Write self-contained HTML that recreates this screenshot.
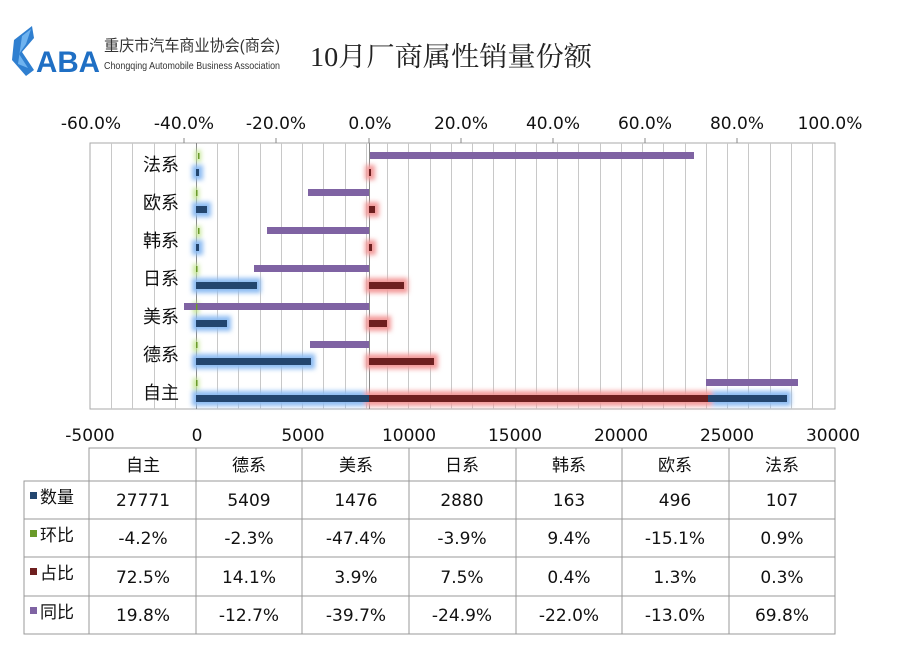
<!DOCTYPE html>
<html><head><meta charset="utf-8"><style>
body{margin:0;background:#fff;width:901px;height:670px;overflow:hidden}
svg{display:block}
.t{font-family:"DejaVu Sans","Noto Sans CJK SC",sans-serif;font-size:17px;fill:#111}
.c{font-family:"Liberation Sans","Noto Sans CJK SC",sans-serif;font-size:18px;fill:#111}
</style></head><body>
<svg width="901" height="670" viewBox="0 0 901 670" xmlns="http://www.w3.org/2000/svg">
<defs>
<filter id="gb" x="-20%" y="-100%" width="140%" height="300%"><feGaussianBlur stdDeviation="2.5"/></filter>
</defs>
<!-- logo -->
<polygon points="14,40 32,26 34,38 22,52 34,70 26,76 12,60" fill="#2f7fd0"/>
<polygon points="22,36 31,29 26,44 19,54 28,68 18,64" fill="#6fb3ef"/>
<text x="36" y="72" font-family="Liberation Sans,sans-serif" font-size="30" font-weight="bold" fill="#1f6fc4" textLength="64" lengthAdjust="spacingAndGlyphs">ABA</text>
<text x="104" y="51" font-family="Liberation Sans,Noto Sans CJK SC,sans-serif" font-size="16" fill="#333" textLength="176" lengthAdjust="spacingAndGlyphs">重庆市汽车商业协会(商会)</text>
<text x="104" y="69" font-family="Liberation Sans,sans-serif" font-size="10" fill="#333" textLength="176" lengthAdjust="spacingAndGlyphs">Chongqing Automobile Business Association</text>
<text x="310" y="66" font-family="Liberation Serif,Noto Serif CJK SC,serif" font-size="27" fill="#222" textLength="282" lengthAdjust="spacingAndGlyphs">10月厂商属性销量份额</text>
<!-- plot -->
<rect x="90" y="143" width="745" height="266" fill="#fff" stroke="#aaa"/>
<g stroke="#c8c8c8" stroke-width="1">
<line x1="111.5" y1="143" x2="111.5" y2="409"/><line x1="132.5" y1="143" x2="132.5" y2="409"/><line x1="154.5" y1="143" x2="154.5" y2="409"/><line x1="175.5" y1="143" x2="175.5" y2="409"/>
<line x1="217.5" y1="143" x2="217.5" y2="409"/><line x1="238.5" y1="143" x2="238.5" y2="409"/><line x1="260.5" y1="143" x2="260.5" y2="409"/><line x1="281.5" y1="143" x2="281.5" y2="409"/><line x1="302.5" y1="143" x2="302.5" y2="409"/><line x1="323.5" y1="143" x2="323.5" y2="409"/><line x1="345.5" y1="143" x2="345.5" y2="409"/><line x1="366.5" y1="143" x2="366.5" y2="409"/><line x1="387.5" y1="143" x2="387.5" y2="409"/><line x1="408.5" y1="143" x2="408.5" y2="409"/><line x1="430.5" y1="143" x2="430.5" y2="409"/><line x1="451.5" y1="143" x2="451.5" y2="409"/><line x1="472.5" y1="143" x2="472.5" y2="409"/><line x1="493.5" y1="143" x2="493.5" y2="409"/><line x1="515.5" y1="143" x2="515.5" y2="409"/><line x1="536.5" y1="143" x2="536.5" y2="409"/><line x1="557.5" y1="143" x2="557.5" y2="409"/><line x1="578.5" y1="143" x2="578.5" y2="409"/><line x1="600.5" y1="143" x2="600.5" y2="409"/><line x1="621.5" y1="143" x2="621.5" y2="409"/><line x1="642.5" y1="143" x2="642.5" y2="409"/><line x1="663.5" y1="143" x2="663.5" y2="409"/><line x1="685.5" y1="143" x2="685.5" y2="409"/><line x1="706.5" y1="143" x2="706.5" y2="409"/><line x1="727.5" y1="143" x2="727.5" y2="409"/><line x1="748.5" y1="143" x2="748.5" y2="409"/><line x1="770.5" y1="143" x2="770.5" y2="409"/><line x1="791.5" y1="143" x2="791.5" y2="409"/><line x1="812.5" y1="143" x2="812.5" y2="409"/>
</g>
<line x1="196.5" y1="143" x2="196.5" y2="409" stroke="#888"/>
<line x1="369.5" y1="143" x2="369.5" y2="409" stroke="#888"/>
<g stroke="#888"><line x1="184" y1="143" x2="184" y2="138"/><line x1="276" y1="143" x2="276" y2="138"/><line x1="369" y1="143" x2="369" y2="138"/><line x1="461" y1="143" x2="461" y2="138"/><line x1="553" y1="143" x2="553" y2="138"/><line x1="645" y1="143" x2="645" y2="138"/><line x1="737" y1="143" x2="737" y2="138"/></g>
<!-- glows -->
<g filter="url(#gb)">
<g fill="#8dbcf2">
<rect x="192" y="165" width="11" height="15"/><rect x="192" y="202" width="19" height="15"/><rect x="192" y="240" width="11" height="15"/><rect x="192" y="278" width="69" height="15"/><rect x="192" y="316" width="39" height="15"/><rect x="192" y="354" width="123" height="15"/><rect x="192" y="391" width="599" height="15"/>
</g>
<g fill="#f29a9a">
<rect x="365" y="165" width="10" height="15"/><rect x="365" y="202" width="14" height="15"/><rect x="365" y="240" width="11" height="15"/><rect x="365" y="278" width="43" height="15"/><rect x="365" y="316" width="26" height="15"/><rect x="365" y="354" width="73" height="15"/><rect x="365" y="391" width="347" height="15"/>
</g>
<g fill="#c8e89a"><rect x="195" y="150" width="6" height="12"/><rect x="193" y="188" width="6" height="12"/><rect x="195" y="226" width="6" height="12"/><rect x="193" y="264" width="6" height="12"/><rect x="193" y="302" width="6" height="12"/><rect x="193" y="340" width="6" height="12"/><rect x="193" y="378" width="6" height="12"/></g>
</g>
<!-- purple -->
<g fill="#7f63a3">
<rect x="370" y="152" width="324" height="7"/><rect x="308" y="189" width="61" height="7"/><rect x="267" y="227" width="102" height="7"/><rect x="254" y="265" width="115" height="7"/><rect x="184" y="303" width="185" height="7"/><rect x="310" y="341" width="59" height="7"/><rect x="706" y="379" width="92" height="7"/>
</g>
<g fill="#6a9a2a"><rect x="198" y="153" width="1.5" height="6"/><rect x="196" y="190" width="1.5" height="6"/><rect x="198" y="228" width="1.5" height="6"/><rect x="196" y="266" width="1.5" height="6"/><rect x="196" y="304" width="1.5" height="6"/><rect x="196" y="342" width="1.5" height="6"/><rect x="196" y="380" width="1.5" height="6"/></g>
<g fill="#23466f">
<rect x="196" y="169" width="3" height="7"/><rect x="196" y="206" width="11" height="7"/><rect x="196" y="244" width="3" height="7"/><rect x="196" y="282" width="61" height="7"/><rect x="196" y="320" width="31" height="7"/><rect x="196" y="358" width="115" height="7"/><rect x="196" y="395" width="591" height="7"/>
</g>
<g fill="#6e1f1f">
<rect x="369" y="169" width="2" height="7"/><rect x="369" y="206" width="6" height="7"/><rect x="369" y="244" width="3" height="7"/><rect x="369" y="282" width="35" height="7"/><rect x="369" y="320" width="18" height="7"/><rect x="369" y="358" width="65" height="7"/><rect x="369" y="395" width="339" height="7"/>
</g>
<g class="c" text-anchor="end" style="font-size:18px">
<text x="179" y="171">法系</text><text x="179" y="209">欧系</text><text x="179" y="247">韩系</text><text x="179" y="285">日系</text><text x="179" y="323">美系</text><text x="179" y="361">德系</text><text x="179" y="399">自主</text>
</g>
<g class="t" text-anchor="middle">
<text x="91" y="129">-60.0%</text><text x="184" y="129">-40.0%</text><text x="276" y="129">-20.0%</text><text x="370" y="129">0.0%</text><text x="461" y="129">20.0%</text><text x="553" y="129">40.0%</text><text x="645" y="129">60.0%</text><text x="737" y="129">80.0%</text><text x="830" y="129">100.0%</text>
<text x="90" y="441">-5000</text><text x="197" y="441">0</text><text x="303" y="441">5000</text><text x="409" y="441">10000</text><text x="515" y="441">15000</text><text x="621" y="441">20000</text><text x="727" y="441">25000</text><text x="833" y="441">30000</text>
</g>
<!-- table -->
<g stroke="#999" fill="none">
<polyline points="89,634 89,448 835,448 835,634 24,634 24,481 89,481"/>
<line x1="24" y1="519" x2="835" y2="519"/><line x1="24" y1="557" x2="835" y2="557"/><line x1="24" y1="596" x2="835" y2="596"/><line x1="89" y1="481" x2="835" y2="481"/>
<line x1="196" y1="448" x2="196" y2="634"/><line x1="302" y1="448" x2="302" y2="634"/><line x1="409" y1="448" x2="409" y2="634"/><line x1="516" y1="448" x2="516" y2="634"/><line x1="622" y1="448" x2="622" y2="634"/><line x1="729" y1="448" x2="729" y2="634"/>
</g>
<rect x="30" y="492" width="7" height="7" fill="#23466f"/><rect x="30" y="530" width="7" height="7" fill="#6a9a2a"/><rect x="30" y="568" width="7" height="7" fill="#6e1f1f"/><rect x="30" y="607" width="7" height="7" fill="#7f63a3"/>
<g class="c" style="font-size:17px"><text x="40" y="503">数量</text><text x="40" y="541">环比</text><text x="40" y="579">占比</text><text x="40" y="618">同比</text></g>
<g class="c" text-anchor="middle" style="font-size:17px">
<text x="143" y="471">自主</text><text x="249" y="471">德系</text><text x="356" y="471">美系</text><text x="462" y="471">日系</text><text x="569" y="471">韩系</text><text x="675" y="471">欧系</text><text x="782" y="471">法系</text>
</g>
<g class="t" text-anchor="middle">
<text x="143" y="506">27771</text><text x="249" y="506">5409</text><text x="356" y="506">1476</text><text x="462" y="506">2880</text><text x="569" y="506">163</text><text x="675" y="506">496</text><text x="782" y="506">107</text>
<text x="143" y="544">-4.2%</text><text x="249" y="544">-2.3%</text><text x="356" y="544">-47.4%</text><text x="462" y="544">-3.9%</text><text x="569" y="544">9.4%</text><text x="675" y="544">-15.1%</text><text x="782" y="544">0.9%</text>
<text x="143" y="583">72.5%</text><text x="249" y="583">14.1%</text><text x="356" y="583">3.9%</text><text x="462" y="583">7.5%</text><text x="569" y="583">0.4%</text><text x="675" y="583">1.3%</text><text x="782" y="583">0.3%</text>
<text x="143" y="621">19.8%</text><text x="249" y="621">-12.7%</text><text x="356" y="621">-39.7%</text><text x="462" y="621">-24.9%</text><text x="569" y="621">-22.0%</text><text x="675" y="621">-13.0%</text><text x="782" y="621">69.8%</text>
</g>
</svg>
</body></html>
